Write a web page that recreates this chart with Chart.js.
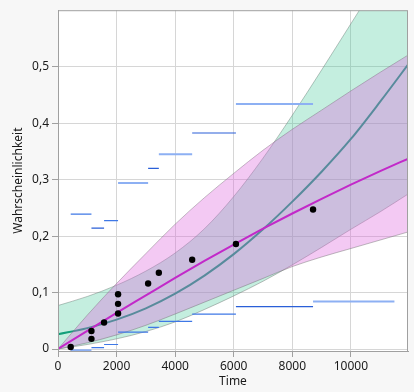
<!DOCTYPE html>
<html>
<head>
<meta charset="utf-8">
<script src="https://cdn.jsdelivr.net/npm/chart.js@4/dist/chart.umd.min.js"></script>
<style>
  body { margin: 0; background: #f7f7f7; }
  canvas { display: block; }
</style>
</head>
<body>
<canvas id="myChart" width="414" height="392"></canvas>
<script>

var curveTime = [0, 1000, 2000, 3000, 4000, 5000, 6000, 7000, 8000, 9000, 10000, 11000, 12000];
var tealProb = [0.026, 0.037, 0.052, 0.072, 0.098, 0.130, 0.168, 0.212, 0.261, 0.314, 0.372, 0.438, 0.507];
var greenUpper = [0.077, 0.093, 0.113, 0.138, 0.170, 0.213, 0.270, 0.338, 0.414, 0.494, 0.576, 0.658, 0.740];
var greenLower = [0, 0.008, 0.018, 0.031, 0.048, 0.070, 0.094, 0.120, 0.149, 0.180, 0.212, 0.243, 0.276];
var magentaProb = [0, 0.032, 0.064, 0.095, 0.126, 0.156, 0.185, 0.213, 0.240, 0.266, 0.291, 0.315, 0.338];
var pinkUpper = [0, 0.060, 0.116, 0.169, 0.221, 0.268, 0.311, 0.352, 0.389, 0.423, 0.457, 0.490, 0.522];
var pinkLower = [0, 0.011, 0.025, 0.042, 0.062, 0.083, 0.104, 0.125, 0.146, 0.163, 0.178, 0.193, 0.208];

// Punkte
var dotTime = [434, 1142, 1142, 1573, 2051, 2051, 2051, 3077, 3443, 4581, 6075, 8708];
var dotProb = [0.0035, 0.018, 0.032, 0.047, 0.063, 0.080, 0.097, 0.116, 0.135, 0.158, 0.186, 0.247];

// Intervalle (blaue Linien)
var segStart = [434, 1142, 1573, 2051, 3077, 3443, 4581, 6075, 8708];
var segEnd = [1142, 1573, 2051, 3077, 3443, 4581, 6075, 8708, 11487];
var upperProb = [0.239, 0.214, 0.2275, 0.294, 0.320, 0.345, 0.3825, 0.434, null];
var upperShade = ['m', 'd', 'm', 'l', 'd', 'l', 'd', 'l', 'l'];
var lowerProb = [-0.002, 0.0024, 0.008, 0.030, 0.0385, 0.049, 0.0617, 0.075, 0.084];
var lowerShade = ['l', 'm', 'm', 'm', 'm', 'm', 'm', 'd', 'l'];

var xTicks = [0, 2000, 4000, 6000, 8000, 10000];
var yTicks = [0, 0.1, 0.2, 0.3, 0.4, 0.5];

var shadeColors = { d: '#2a5fd8', m: '#3f78e6', l: '#8db0f3' };

function pts(xs, ys) {
  return xs.map(function (x, i) { return { x: x, y: ys[i] }; });
}

function segmentData(ys, shades, shade) {
  var out = [];
  for (var i = 0; i < segStart.length; i++) {
    if (ys[i] === null || shades[i] !== shade) continue;
    out.push({ x: segStart[i], y: ys[i] });
    out.push({ x: segEnd[i], y: ys[i] });
    out.push({ x: segEnd[i], y: null });
  }
  return out;
}

var edge = 'rgba(110,110,110,0.45)';
var datasets = [];

// green band + teal line
datasets.push({ data: pts(curveTime, greenUpper), borderColor: edge, borderWidth: 1, pointRadius: 0, fill: false, cubicInterpolationMode: 'monotone', order: 9 });
datasets.push({ data: pts(curveTime, greenLower), borderColor: edge, borderWidth: 1, pointRadius: 0, fill: '-1', backgroundColor: 'rgba(60,200,150,0.3)', cubicInterpolationMode: 'monotone', order: 8 });
datasets.push({ data: pts(curveTime, tealProb), borderColor: '#12a07a', borderWidth: 2, pointRadius: 0, fill: false, cubicInterpolationMode: 'monotone', order: 7 });

// pink band + magenta line
datasets.push({ data: pts(curveTime, pinkUpper), borderColor: edge, borderWidth: 1, pointRadius: 0, fill: false, cubicInterpolationMode: 'monotone', order: 6 });
datasets.push({ data: pts(curveTime, pinkLower), borderColor: edge, borderWidth: 1, pointRadius: 0, fill: '-1', backgroundColor: 'rgba(220,100,220,0.35)', cubicInterpolationMode: 'monotone', order: 5 });
datasets.push({ data: pts(curveTime, magentaProb), borderColor: '#c229c9', borderWidth: 2, pointRadius: 0, fill: false, cubicInterpolationMode: 'monotone', order: 4 });

// Intervalle
['d', 'm', 'l'].forEach(function (s) {
  datasets.push({ data: segmentData(upperProb, upperShade, s).concat(segmentData(lowerProb, lowerShade, s)), borderColor: shadeColors[s], borderWidth: s === 'l' ? 2 : 1.2, pointRadius: 0, fill: false, spanGaps: false, order: 2 });
});

// Punkte
datasets.push({ data: pts(dotTime, dotProb), showLine: false, pointRadius: 3.2, pointBackgroundColor: '#000', pointBorderWidth: 0, order: 1 });

var bgPlugin = {
  id: 'bg',
  beforeDraw: function (chart) {
    var c = chart.ctx, a = chart.chartArea;
    c.save();
    c.fillStyle = '#f7f7f7';
    c.fillRect(0, 0, chart.width, chart.height);
    c.fillStyle = '#ffffff';
    c.fillRect(a.left, a.top, a.right - a.left, a.bottom - a.top);
    c.restore();
  },
  afterDraw: function (chart) {
    var c = chart.ctx, a = chart.chartArea;
    c.save();
    c.strokeStyle = '#a0a0a0';
    c.lineWidth = 1;
    c.strokeRect(a.left + 0.5, a.top + 0.5, a.right - a.left - 1, a.bottom - a.top);
    c.restore();
  }
};

var tickFont = { family: '"Noto Sans", "Open Sans", sans-serif', size: 12 };

new Chart("myChart", {
  type: 'line',
  data: { datasets: datasets },
  plugins: [bgPlugin],
  options: {
    responsive: false,
    animation: false,
    layout: { padding: { top: 2, right: 6, left: 0, bottom: 0 } },
    plugins: { legend: { display: false }, tooltip: { enabled: false } },
    scales: {
      x: {
        type: 'linear',
        min: 0,
        max: 11950,
        afterBuildTicks: function (s) { s.ticks = xTicks.map(function (v) { return { value: v }; }); },
        afterFit: function (s) { s.height = 41; },
        grid: { color: '#d6d6d6', tickColor: '#a0a0a0', tickLength: 6 },
        border: { color: '#a0a0a0' },
        ticks: { font: tickFont, color: '#1a1a1a', padding: 2, maxRotation: 0, callback: function (v) { return String(v); } },
        title: { display: true, text: 'Time', font: tickFont, color: '#1a1a1a', padding: { top: 0, bottom: 3 } }
      },
      y: {
        min: -0.0035,
        max: 0.6,
        afterBuildTicks: function (s) { s.ticks = yTicks.map(function (v) { return { value: v }; }); },
        afterFit: function (s) { s.width = 58; },
        grid: { color: '#d6d6d6', tickColor: '#a0a0a0', tickLength: 6 },
        border: { color: '#a0a0a0' },
        ticks: { font: tickFont, color: '#1a1a1a', padding: 3, callback: function (v) { return v === 0 ? '0' : v.toFixed(1).replace('.', ','); } },
        title: { display: true, text: 'Wahrscheinlichkeit', font: tickFont, color: '#1a1a1a', padding: { top: 11, bottom: 0 } }
      }
    }
  }
});
</script>
</body>
</html>
